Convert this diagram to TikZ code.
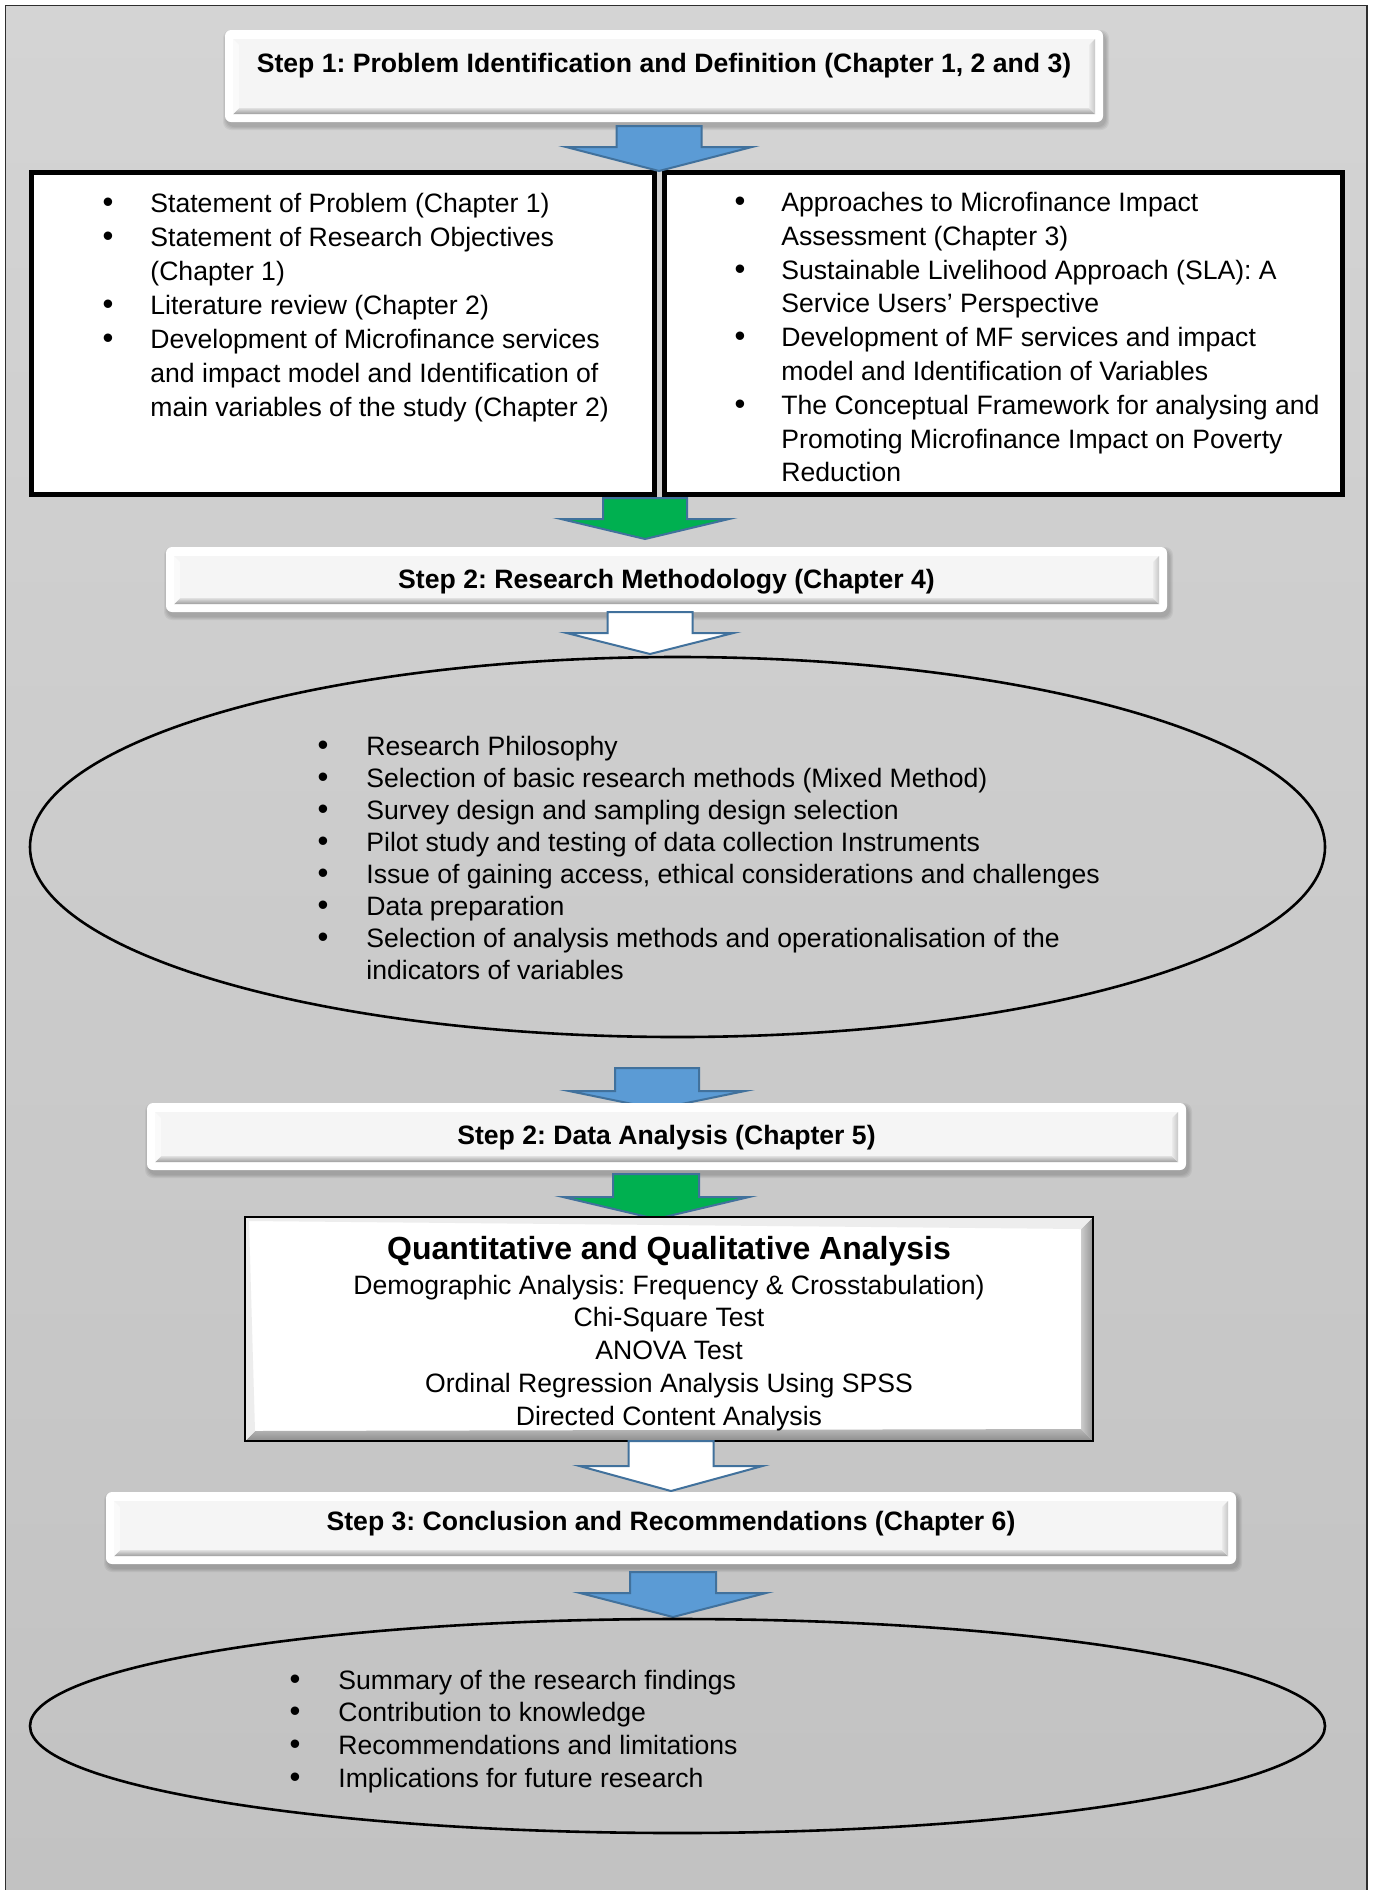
\documentclass[tikz,border=0pt]{standalone}
\usepackage{fontspec}
\setmainfont{Liberation Sans}
\usetikzlibrary{calc,shapes.geometric}
\frenchspacing

\definecolor{bgtop}{HTML}{D4D4D4}
\definecolor{bgbot}{HTML}{C2C2C2}
\definecolor{arrowblue}{HTML}{5B9BD5}
\definecolor{arrowedge}{HTML}{41719C}
\definecolor{arrowgreen}{HTML}{00B050}
\definecolor{bevelface}{HTML}{F5F5F5}
\definecolor{framegray}{HTML}{2E2E2E}

\tikzset{
  x=0.5pt, y=-0.5pt,
  body/.style={font=\fontsize{13.3}{17}\selectfont, inner sep=0pt},
  bul/.style={font=\fontsize{15.5}{17}\selectfont, inner sep=0pt},
  heading/.style={font=\fontsize{13.3}{17}\selectfont\bfseries, inner sep=0pt},
  qtitle/.style={font=\fontsize{16}{19}\selectfont\bfseries, inner sep=0pt},
  listbox/.style={draw=black, line width=2.3pt, fill=white},
  oval/.style={ellipse, draw=black, line width=1.3pt, inner sep=0pt},
  blockarrow/.style={draw=arrowedge, line width=1pt, line join=miter},
}

% bevelled step banner: name, x1, y1, x2, y2, text, baseline
\newcommand\bevelstep[7]{%
  \foreach \k in {1,2,3,4}{%
    \fill[black, opacity=0.05, rounded corners=4pt]
      (#2+2-\k,#3+4-\k) rectangle (#4+2+\k,#5+4+\k);
  }
  \fill[white, rounded corners=3pt] (#2,#3) rectangle (#4,#5);
  \fill[bevelface] (#2+8,#3+9) rectangle (#4-8,#5-8);
  \shade[top color=white!88!black, bottom color=white!62!black]
    (#2+8,#5-8) -- (#4-8,#5-8) -- (#4-14,#5-14) -- (#2+14,#5-14) -- cycle;
  \shade[left color=white!92!black, right color=white!78!black]
    (#4-8,#3+9) -- (#4-8,#5-8) -- (#4-14,#5-14) -- (#4-14,#3+15) -- cycle;
  \fill[white!98!black]
    (#2+8,#3+9) -- (#2+14,#3+15) -- (#2+14,#5-14) -- (#2+8,#5-8) -- cycle;
  \node[heading, anchor=base] (#1) at ({(#2+#4)/2},#7) {#6};
}

% downward block arrow: name, x centre, top, neck, tip, half shaft, half head, fill
\newcommand\blockdown[8]{%
  \draw[blockarrow, fill=#8]
    (#2-#6,#3) -- (#2+#6,#3) -- (#2+#6,#4) -- (#2+#7,#4) -- (#2,#5)
    -- (#2-#7,#4) -- (#2-#6,#4) -- cycle;
  \coordinate (#1) at (#2,#5);
}

\begin{document}
\begin{tikzpicture}
\useasboundingbox (0,0) rectangle (1373,1890);
\fill[white] (0,0) rectangle (1373,1890);
\shade[top color=bgtop, bottom color=bgbot] (5.5,5.5) rectangle (1367,1890);
\draw[framegray, line width=0.75pt] (5.5,1900) -- (5.5,5.5) -- (1367,5.5) -- (1367,1900);

% ---- Step 1 ----
\bevelstep{s1}{225}{30}{1103}{122}{Step 1: Problem Identification and Definition (Chapter 1, 2 and 3)}{72}

% ---- the two topic boxes ----
\draw[listbox] (31.3,172.3) rectangle (654.7,494.7);
\draw[listbox] (664.3,172.3) rectangle (1342.7,494.7);
\coordinate (leftbox) at (343,333);
\coordinate (rightbox) at (1003,333);

\foreach \t [count=\i from 0] in {%
  Statement of Problem (Chapter 1),
  Statement of Research Objectives,
  (Chapter 1),
  Literature review (Chapter 2),
  Development of Microfinance services,
  and impact model and Identification of,
  main variables of the study (Chapter 2)}
  \node[body, anchor=base west] (lt\i) at (150,212+34*\i) {\t};
\foreach \i in {0,1,3,4}
  \node[bul, anchor=base] (lb\i) at (108,212+34*\i) {\textbullet};

\foreach \t [count=\i from 0] in {%
  Approaches to Microfinance Impact,
  Assessment (Chapter 3),
  Sustainable Livelihood Approach (SLA): A,
  Service Users’ Perspective,
  Development of MF services and impact,
  model and Identification of Variables,
  The Conceptual Framework for analysing and,
  Promoting Microfinance Impact on Poverty,
  Reduction}
  \node[body, anchor=base west] (rt\i) at (781,211.5+33.8*\i) {\t};
\foreach \i in {0,2,4,6}
  \node[bul, anchor=base] (rb\i) at (740,211.5+33.8*\i) {\textbullet};

\blockdown{a1}{659}{126}{147}{171}{42.5}{93}{arrowblue}
\blockdown{a2}{645}{498}{519}{539}{42}{84}{arrowgreen}

% ---- Step 2: methodology ----
\bevelstep{s2}{166}{547}{1167}{612}{Step 2: Research Methodology (Chapter 4)}{588}
\blockdown{a3}{650}{612}{633}{654}{42.5}{83.5}{white}

\node[oval, minimum width=647.5pt, minimum height=190pt] (e1) at (677.5,847) {};
\foreach \t [count=\i from 0] in {%
  Research Philosophy,
  Selection of basic research methods (Mixed Method),
  Survey design and sampling design selection,
  Pilot study and testing of data collection Instruments,
  {Issue of gaining access, ethical considerations and challenges},
  Data preparation,
  Selection of analysis methods and operationalisation of the,
  indicators of variables}
  \node[body, anchor=base west] (mt\i) at (366,755+32*\i) {\t};
\foreach \i in {0,...,6}
  \node[bul, anchor=base] (mb\i) at (323,755+32*\i) {\textbullet};

\blockdown{a4}{657}{1068}{1091}{1109}{42}{88}{arrowblue}

% ---- Step 2: data analysis ----
\bevelstep{s3}{147}{1103}{1186}{1170}{Step 2: Data Analysis (Chapter 5)}{1144}
\blockdown{a5}{656}{1174}{1197}{1219}{43}{93}{arrowgreen}

% ---- analysis box ----
\fill[white] (245,1217) rectangle (1093,1441);
\shade[left color=white!80!black, right color=white!58!black]
  (1093,1217) -- (1093,1441) -- (1081,1429) -- (1081,1229) -- cycle;
\shade[top color=white!72!black, bottom color=white!55!black]
  (245,1441) -- (1093,1441) -- (1081,1429) -- (255,1431) -- cycle;
\fill[white!93!black] (245,1217) -- (1093,1217) -- (1081,1229) -- (249,1221) -- cycle;
\fill[white!93!black] (245,1217) -- (249,1221) -- (255,1431) -- (245,1441) -- cycle;
\draw[black, line width=1.1pt] (245,1217) rectangle (1093,1441);
\coordinate (qbox) at (669,1329);
\node[qtitle, anchor=base] (qt) at (669,1259) {Quantitative and Qualitative Analysis};
\foreach \t [count=\i from 0] in {%
  Demographic Analysis: Frequency \& Crosstabulation),
  Chi-Square Test,
  ANOVA Test,
  Ordinal Regression Analysis Using SPSS,
  Directed Content Analysis}
  \node[body, anchor=base] (q\i) at (669,1294+32.75*\i) {\t};

\blockdown{a6}{671}{1441}{1466}{1491}{42.5}{91.5}{white}

% ---- Step 3 ----
\bevelstep{s4}{106}{1492}{1236}{1564}{Step 3: Conclusion and Recommendations (Chapter 6)}{1530}
\blockdown{a7}{673}{1572}{1593}{1617}{43}{93}{arrowblue}

\node[oval, minimum width=647.5pt, minimum height=107pt] (e2) at (677.5,1726) {};
\foreach \t [count=\i from 0] in {%
  Summary of the research findings,
  Contribution to knowledge,
  Recommendations and limitations,
  Implications for future research}
  \node[body, anchor=base west] (ft\i) at (338,1689+32.7*\i) {\t};
\foreach \i in {0,...,3}
  \node[bul, anchor=base] (fb\i) at (295,1689+32.7*\i) {\textbullet};
\end{tikzpicture}
\end{document}
